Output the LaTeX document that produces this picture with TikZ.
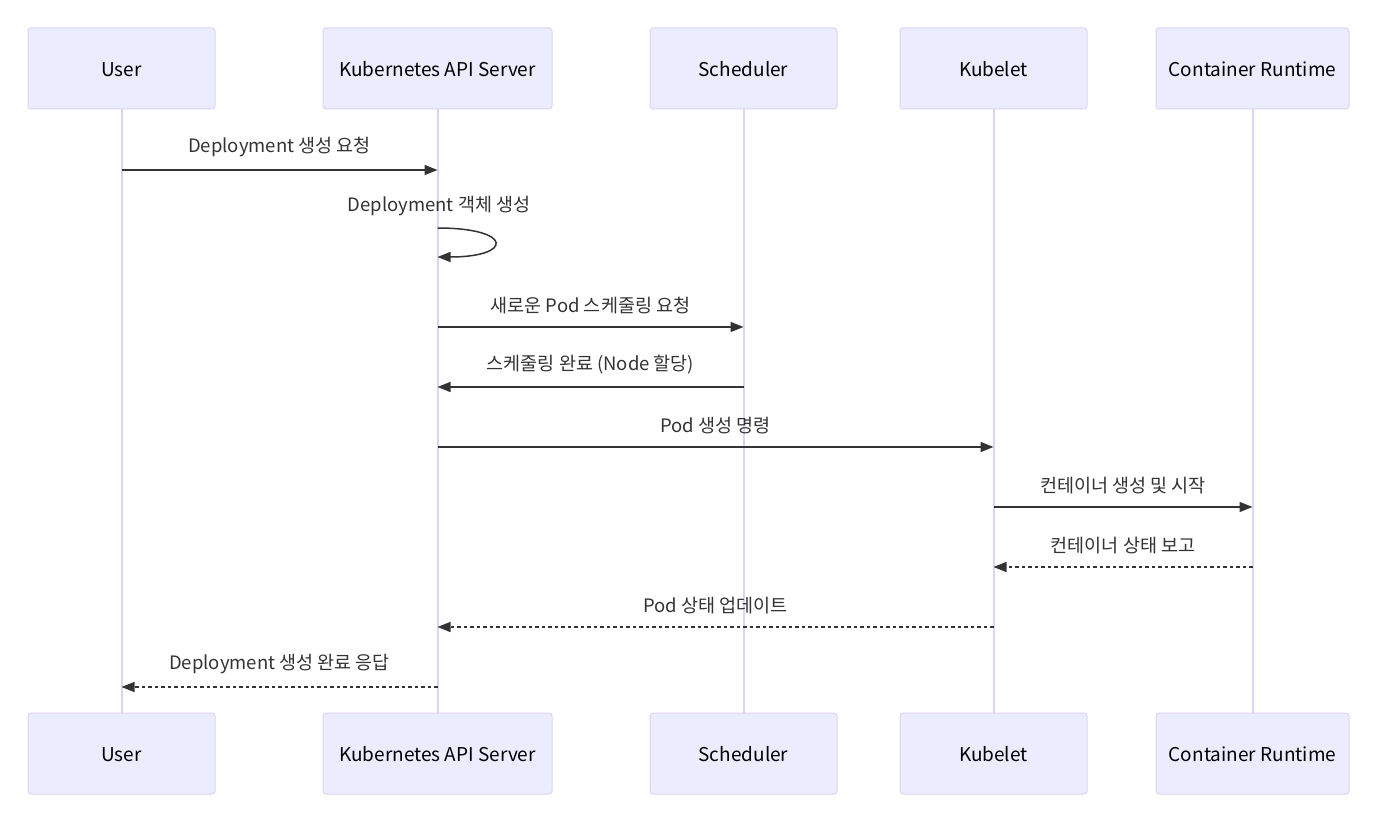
\documentclass[tikz,border=0pt]{standalone}
\usepackage{fontspec}
\setmainfont{Noto Sans CJK KR}
\usetikzlibrary{positioning,arrows.meta}
\definecolor{boxfill}{HTML}{ECECFF}
\definecolor{boxline}{HTML}{DCD3F5}
\definecolor{ink}{HTML}{333333}

\begin{document}
\begin{tikzpicture}[x=1pt,y=-1pt,
  actor/.style={draw=boxline,fill=boxfill,line width=1pt,rounded corners=3pt,
    minimum width=187pt,minimum height=81pt,text=black,text height=16pt,text depth=0pt,
    font=\fontsize{19}{22}\selectfont},
  life/.style={draw=boxline,line width=2pt},
  msg/.style={draw=ink,line width=1.5pt,-{Triangle[length=13pt,width=10pt]}},
  reply/.style={msg,dash pattern=on 3.5pt off 3pt},
  lbl/.style={text=ink,font=\fontsize{18.5}{22}\selectfont,above=9pt,midway}]
\useasboundingbox (0,0) rectangle (1388,818);
% actors, top and bottom
\node[actor] (user) at (121.5,68.5) {User};
\node[actor,minimum width=229pt] (api) at (437.5,68.5) {Kubernetes API Server};
\node[actor] (sched) at (743.5,68.5) {Scheduler};
\node[actor] (kube) at (993.5,68.5) {Kubelet};
\node[actor,minimum width=193pt] (cr) at (1252.5,68.5) {Container Runtime};
\node[actor] (userB) at (121.5,753.5) {User};
\node[actor,minimum width=229pt] (apiB) at (437.5,753.5) {Kubernetes API Server};
\node[actor] (schedB) at (743.5,753.5) {Scheduler};
\node[actor] (kubeB) at (993.5,753.5) {Kubelet};
\node[actor,minimum width=193pt] (crB) at (1252.5,753.5) {Container Runtime};
\foreach \a in {user,api,sched,kube,cr}
  \draw[life] (\a.south) -- (\a B.north);
% message rows
\coordinate (r1) at (0,170);
\coordinate (r2a) at (0,228);
\coordinate (r2b) at (0,257);
\coordinate (r3) at (0,327);
\coordinate (r4) at (0,387);
\coordinate (r5) at (0,447);
\coordinate (r6) at (0,507);
\coordinate (r7) at (0,567);
\coordinate (r8) at (0,627);
\coordinate (r9) at (0,687);
\draw[msg] (user|-r1) -- node[lbl] {Deployment 생성 요청} (api|-r1);
\draw[msg] (api|-r2a) .. controls +(76,0) and +(76,0) .. (api|-r2b);
\node[text=ink,font=\fontsize{18.5}{22}\selectfont] (selfl) at (439,206) {Deployment 객체 생성};
\draw[msg] (api|-r3) -- node[lbl] {새로운 Pod 스케줄링 요청} (sched|-r3);
\draw[msg] (sched|-r4) -- node[lbl] {스케줄링 완료 (Node 할당)} (api|-r4);
\draw[msg] (api|-r5) -- node[lbl] {Pod 생성 명령} (kube|-r5);
\draw[msg] (kube|-r6) -- node[lbl] {컨테이너 생성 및 시작} (cr|-r6);
\draw[reply] (cr|-r7) -- node[lbl] {컨테이너 상태 보고} (kube|-r7);
\draw[reply] (kube|-r8) -- node[lbl] {Pod 상태 업데이트} (api|-r8);
\draw[reply] (api|-r9) -- node[lbl] {Deployment 생성 완료 응답} (user|-r9);
\end{tikzpicture}
\end{document}
